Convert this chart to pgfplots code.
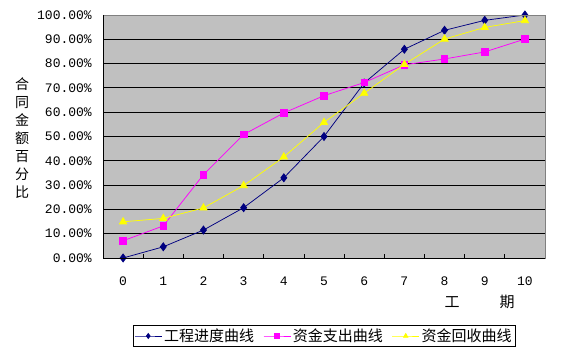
\documentclass[border=0pt]{standalone}
\usepackage{fontspec}
\setmainfont{Noto Sans CJK SC}
\newfontfamily\numfont{Liberation Mono}
\usepackage{pgfplots}
\pgfplotsset{compat=1.18}
\definecolor{plotgray}{RGB}{192,192,192}
\definecolor{navyc}{RGB}{0,0,128}
\definecolor{magc}{RGB}{255,0,255}
\definecolor{yelc}{RGB}{255,255,0}
\definecolor{bordergray}{RGB}{128,128,128}
\begin{document}
\begin{tikzpicture}
\path[use as bounding box] (0,0) rectangle (561pt,352pt);
\begin{axis}[
  at={(103pt,94pt)}, anchor=south west,
  scale only axis, width=442pt, height=243pt,
  xmin=-0.5, xmax=10.5, ymin=0, ymax=100,
  axis background/.style={fill=plotgray},
  axis line style={draw=bordergray, line width=0.8pt},
  tick pos=left,
  xtick={0,1,2,3,4,5,6,7,8,9,10},
  xticklabels={0,1,2,3,4,5,6,7,8,9,10},
  major x tick style={draw=none},
  minor xtick={0.5,1.5,2.5,3.5,4.5,5.5,6.5,7.5,8.5,9.5},
  minor x tick style={black, line width=0.8pt},
  minor tick length=4pt,
  ytick={0,10,20,30,40,50,60,70,80,90,100},
  yticklabels={0.00\%,10.00\%,20.00\%,30.00\%,40.00\%,50.00\%,60.00\%,70.00\%,80.00\%,90.00\%,100.00\%},
  major y tick style={draw=none},
  ymajorgrids,
  major grid style={black, line width=0.8pt},
  yticklabel style={font=\numfont\fontsize{13}{13}\selectfont, anchor=east, inner sep=0pt, xshift=-11pt},
  xticklabel style={font=\numfont\fontsize{13}{13}\selectfont, anchor=base, inner sep=0pt, yshift=-28pt},
  legend columns=3,
  legend style={at={(0.5,-0.321)}, anchor=center, draw=black, font=\fontsize{15}{15}\selectfont,
    inner sep=1.5pt, /tikz/every even column/.append style={column sep=7pt}},
  legend image code/.code={\draw[mark repeat=2,mark phase=2,#1,mark size=2.5pt] plot coordinates {(0pt,0pt) (13.5pt,0pt) (27pt,0pt)};},
]
\addplot[navyc, line width=0.75pt, mark=diamond*, mark size=4pt, mark options={solid, fill=navyc, draw=navyc}] coordinates {
(0,0) (1,4.6) (2,11.5) (3,20.7) (4,33) (5,50) (6,72) (7,85.9) (8,93.7) (9,97.8) (10,100)};
\addlegendentry{工程进度曲线}
\addplot[magc, line width=0.75pt, mark=square*, mark size=3.3pt, mark options={solid, fill=magc, draw=magc}] coordinates {
(0,7.1) (1,13.2) (2,34.3) (3,50.8) (4,59.7) (5,66.8) (6,72.2) (7,79.5) (8,81.9) (9,84.8) (10,90.1)};
\addlegendentry{资金支出曲线}
\addplot[yelc, line width=0.75pt, mark=triangle*, mark size=4.2pt, mark options={solid, fill=yelc, draw=yelc}] coordinates {
(0,14.9) (1,16.3) (2,20.6) (3,29.8) (4,41.6) (5,55.8) (6,67.8) (7,79.7) (8,90.1) (9,94.9) (10,97.7)};
\addlegendentry{资金回收曲线}
\end{axis}
\draw[bordergray, line width=0.8pt] (103pt,337pt) -- (545pt,337pt) -- (545pt,94pt);
\draw[black, line width=0.8pt] (103pt,337pt) -- (103pt,94pt) -- (545pt,94pt);
\node[font=\fontsize{14}{18}\selectfont, align=center] at (22pt,213.5pt) {合\\同\\金\\额\\百\\分\\比};
\node[font=\fontsize{15}{15}\selectfont] at (452pt,50pt) {工};
\node[font=\fontsize{15}{15}\selectfont] at (507pt,50pt) {期};
\end{tikzpicture}
\end{document}
